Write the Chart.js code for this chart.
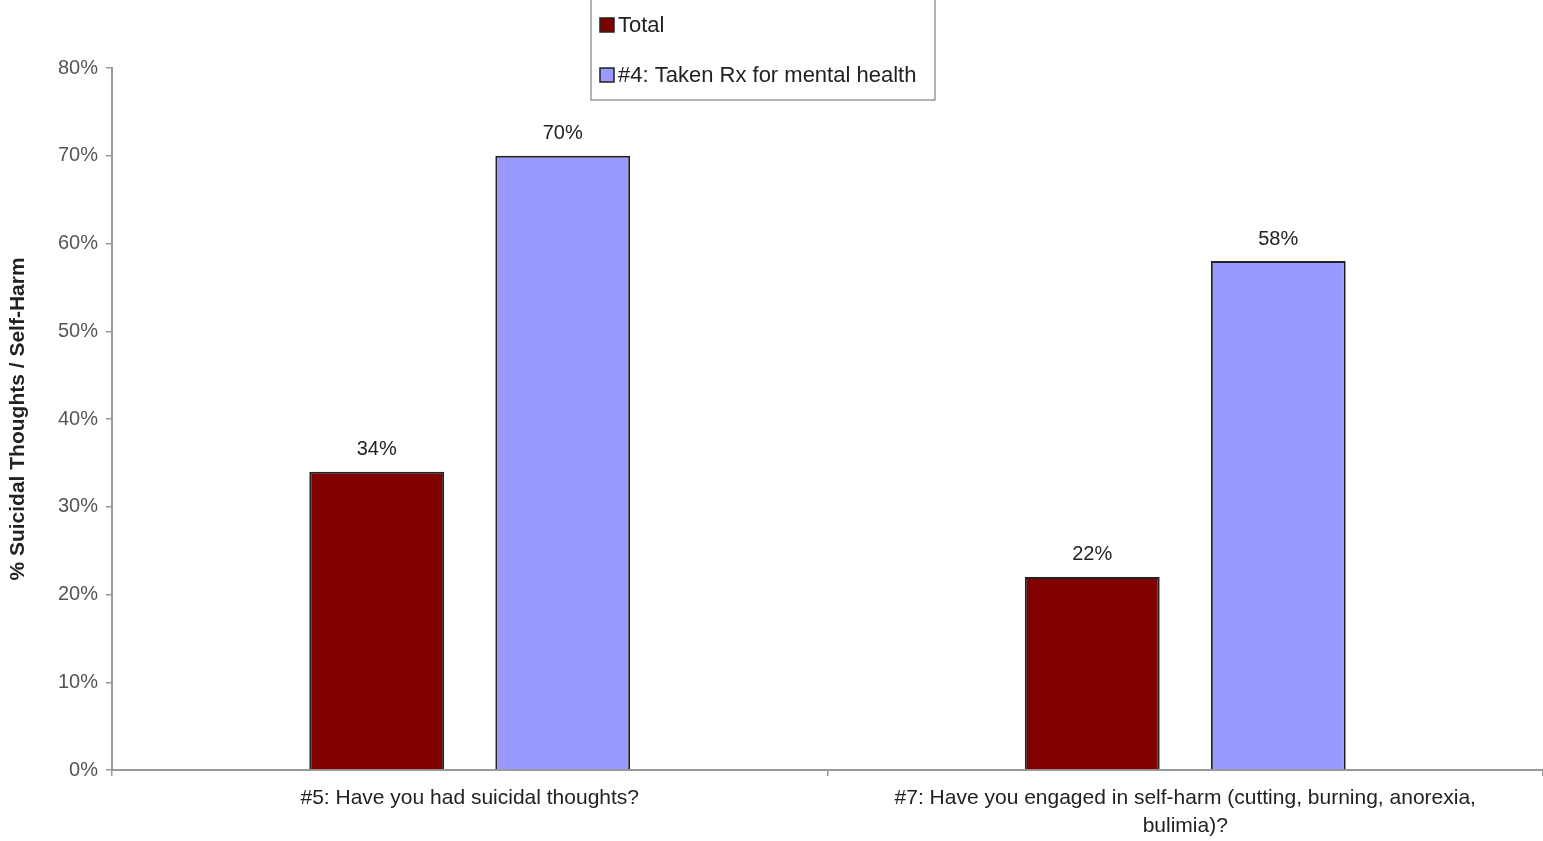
<!DOCTYPE html>
<html>
<head>
<meta charset="utf-8">
<script src="https://cdn.jsdelivr.net/npm/chart.js@4"></script>
<style>
  html, body { margin: 0; padding: 0; background: #fff; }
  #wrap { width: 1543px; height: 841px; }
</style>
</head>
<body>
<div id="wrap"><canvas id="surveyChart"></canvas></div>
<script>
// Survey data
const questions = [
    "#5: Have you had suicidal thoughts?",
    ["#7: Have you engaged in self-harm (cutting, burning, anorexia,", "bulimia)?"]
];
const seriesNames = ["Total", "#4: Taken Rx for mental health"];
const totalValues = [34, 22];
const rxValues = [70, 58];
const yTicks = [0, 10, 20, 30, 40, 50, 60, 70, 80];

const FONT = "'Liberation Sans', Arial, sans-serif";

// Percent labels above each bar
const valueLabels = {
    id: "valueLabels",
    afterDatasetsDraw(chart) {
        const ctx = chart.ctx;
        ctx.save();
        ctx.font = "20px " + FONT;
        ctx.fillStyle = "#222";
        ctx.textAlign = "center";
        ctx.textBaseline = "bottom";
        chart.data.datasets.forEach((ds, i) => {
            chart.getDatasetMeta(i).data.forEach((bar, j) => {
                ctx.fillText(ds.data[j] + "%", bar.x, bar.y - 12);
            });
        });
        ctx.restore();
    }
};

// Boxed legend, stacked vertically near the top
const boxLegend = {
    id: "boxLegend",
    afterDraw(chart) {
        const ctx = chart.ctx;
        ctx.save();
        ctx.strokeStyle = "#999";
        ctx.lineWidth = 1.5;
        ctx.strokeRect(591, -2, 344, 102);
        ctx.font = "22px " + FONT;
        ctx.textBaseline = "middle";
        chart.data.datasets.forEach((ds, i) => {
            const y = 25 + i * 50;
            ctx.fillStyle = ds.backgroundColor;
            ctx.fillRect(600, y - 7, 14, 14);
            ctx.strokeStyle = "#222";
            ctx.lineWidth = 1.5;
            ctx.strokeRect(600, y - 7, 14, 14);
            ctx.fillStyle = "#222";
            ctx.fillText(ds.label, 618, y + 1);
        });
        ctx.restore();
    }
};

new Chart(document.getElementById("surveyChart"), {
    type: "bar",
    data: {
        labels: questions,
        datasets: [
            {
                label: seriesNames[0],
                data: totalValues,
                backgroundColor: "#800000",
                borderColor: "#222",
                borderWidth: 2
            },
            {
                label: seriesNames[1],
                data: rxValues,
                backgroundColor: "#9999ff",
                borderColor: "#222",
                borderWidth: 2
            }
        ]
    },
    options: {
        responsive: true,
        maintainAspectRatio: false,
        animation: false,
        categoryPercentage: 0.52,
        barPercentage: 0.725,
        layout: { padding: { top: 68, right: 0, left: 0, bottom: 0 } },
        plugins: {
            legend: { display: false },
            tooltip: { enabled: false }
        },
        scales: {
            x: {
                offset: true,
                grid: {
                    offset: true,
                    drawOnChartArea: false,
                    drawTicks: true,
                    tickLength: 6,
                    color: "#999",
                    lineWidth: 1.5
                },
                border: { color: "#999", width: 2 },
                ticks: {
                    color: "#222",
                    font: { family: FONT, size: 21, lineHeight: 1.3 },
                    padding: 9,
                    maxRotation: 0
                },
                afterFit(scale) { scale.height = 71; }
            },
            y: {
                min: 0,
                max: 80,
                afterBuildTicks(scale) {
                    scale.ticks = yTicks.map(v => ({ value: v }));
                },
                grid: {
                    drawOnChartArea: false,
                    drawTicks: true,
                    tickLength: 6,
                    color: "#999",
                    lineWidth: 1.5
                },
                border: { color: "#999", width: 2 },
                ticks: {
                    color: "#555",
                    font: { family: FONT, size: 20 },
                    padding: 8,
                    callback: v => v + "%"
                },
                title: {
                    display: true,
                    text: "% Suicidal Thoughts / Self-Harm",
                    color: "#222",
                    font: { family: FONT, size: 21, weight: "bold" },
                    padding: { top: 6, bottom: 4 }
                },
                afterFit(scale) { scale.width = 112; }
            }
        }
    },
    plugins: [valueLabels, boxLegend]
});
</script>
</body>
</html>
